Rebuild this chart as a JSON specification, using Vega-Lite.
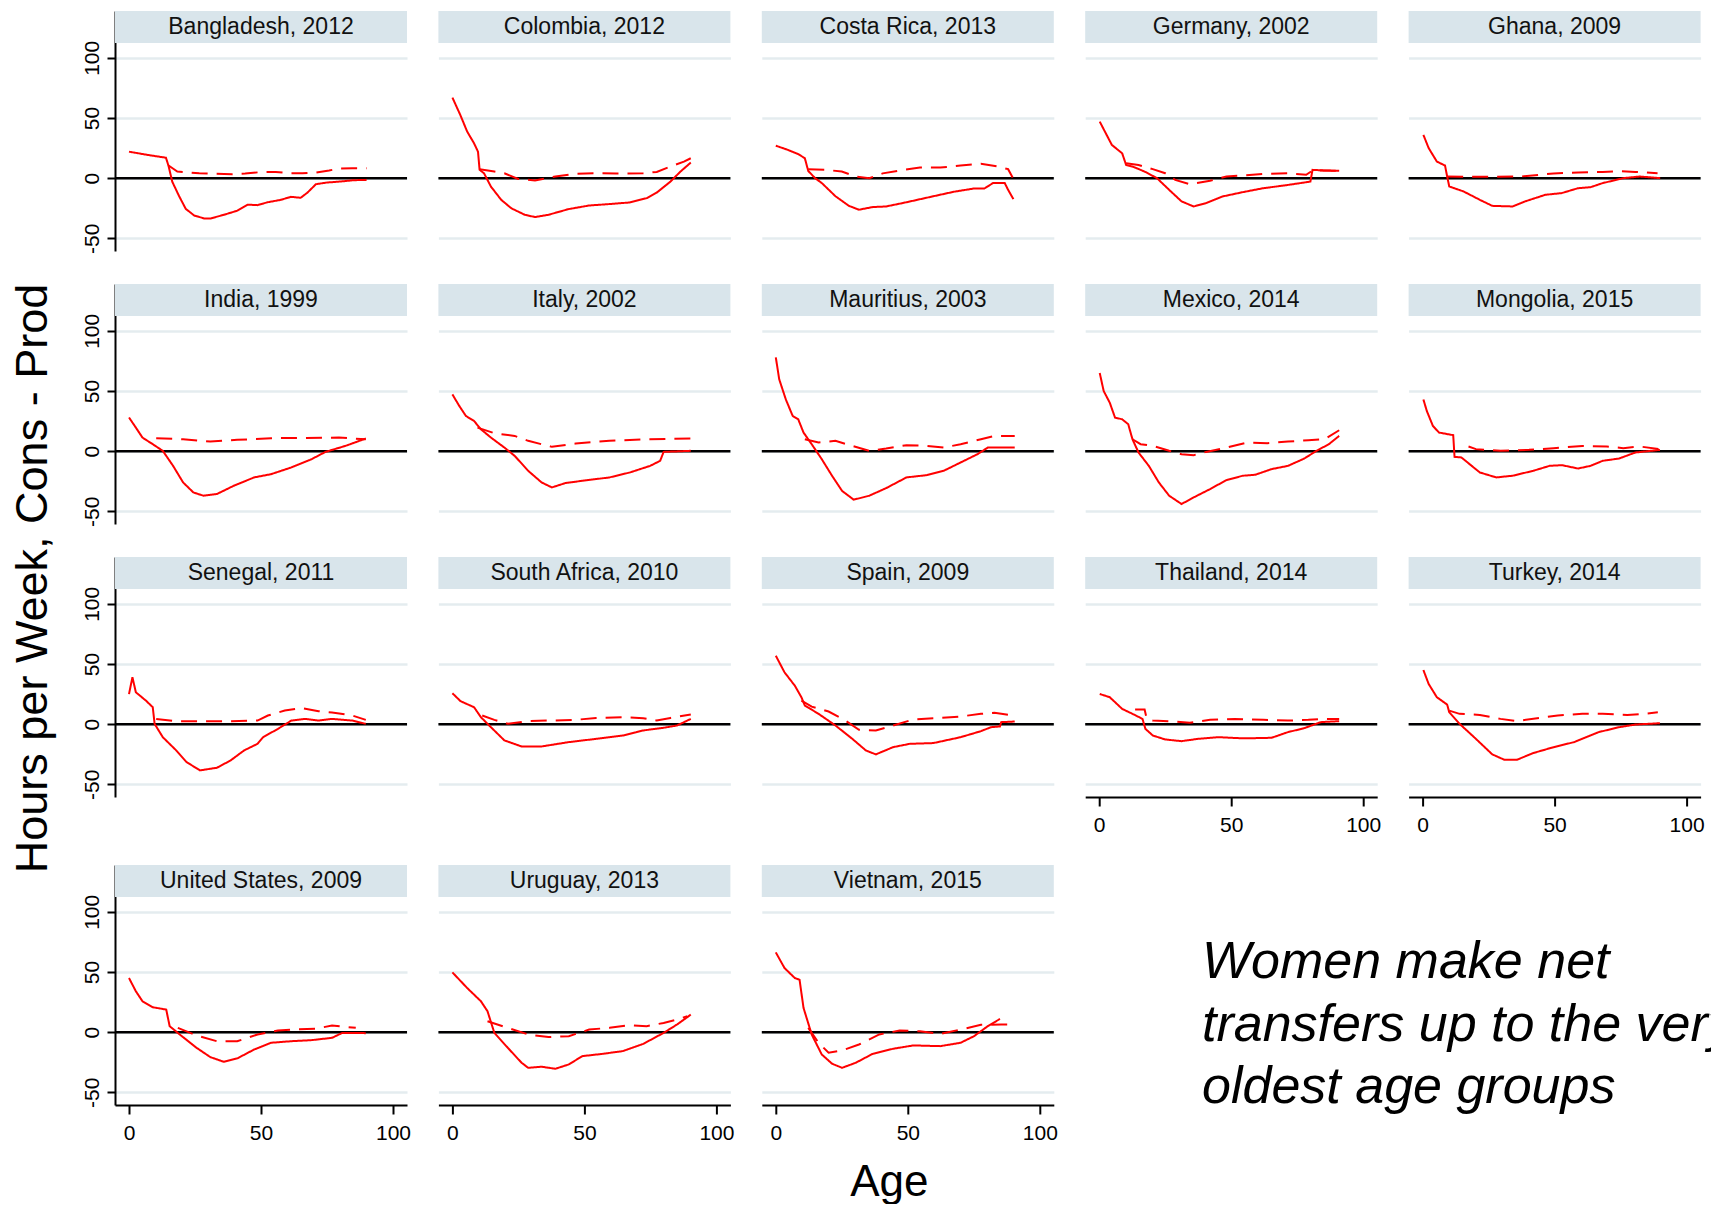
{
"$schema":"https://vega.github.io/schema/vega-lite/v6.json",
"padding":{"left":10,"top":11,"right":0,"bottom":0},
"background":"white",
"title":{"text":"Hours per Week, Cons - Prod","orient":"left","anchor":"middle","fontSize":45,"font":"Liberation Sans","fontWeight":"normal","color":"black","offset":25,"dx":29},
"config":{
 "view":{"stroke":null},
 "font":"Liberation Sans",
 "axis":{"labelFont":"Liberation Sans","labelFontSize":21,"labelColor":"black","domainColor":"black","domainWidth":2,"tickColor":"black","tickWidth":2,"labelFlush":false,"labelOverlap":false,"gridColor":"#e4ecef","gridWidth":2.5},
 "axisY":{"grid":true,"tickSize":8,"labelAngle":270,"labelAlign":"center","labelBaseline":"bottom","labelPadding":5},
 "axisX":{"grid":false,"tickSize":9,"labelPadding":8}
},
"datasets":{"lines":[
{"c":"Bangladesh","s":"solid","a":0,"v":22},{"c":"Bangladesh","s":"solid","a":8,"v":19},{"c":"Bangladesh","s":"solid","a":14,"v":17},{"c":"Bangladesh","s":"solid","a":15,"v":10},{"c":"Bangladesh","s":"solid","a":16.4,"v":-3},{"c":"Bangladesh","s":"solid","a":19,"v":-15},{"c":"Bangladesh","s":"solid","a":21.5,"v":-25.5},{"c":"Bangladesh","s":"solid","a":24.7,"v":-31},{"c":"Bangladesh","s":"solid","a":28.4,"v":-33.4},{"c":"Bangladesh","s":"solid","a":31,"v":-33.4},{"c":"Bangladesh","s":"solid","a":36,"v":-30.4},{"c":"Bangladesh","s":"solid","a":41,"v":-27},{"c":"Bangladesh","s":"solid","a":45,"v":-22},{"c":"Bangladesh","s":"solid","a":48.7,"v":-22.4},{"c":"Bangladesh","s":"solid","a":52.5,"v":-20},{"c":"Bangladesh","s":"solid","a":57.5,"v":-18},{"c":"Bangladesh","s":"solid","a":61.3,"v":-15.5},{"c":"Bangladesh","s":"solid","a":65,"v":-16.3},{"c":"Bangladesh","s":"solid","a":67.6,"v":-12},{"c":"Bangladesh","s":"solid","a":70.8,"v":-5},{"c":"Bangladesh","s":"solid","a":75,"v":-3.6},{"c":"Bangladesh","s":"solid","a":80,"v":-2.8},{"c":"Bangladesh","s":"solid","a":85,"v":-1.7},{"c":"Bangladesh","s":"solid","a":90,"v":-1.4},
{"c":"Bangladesh","s":"dashed","a":15,"v":10.5},{"c":"Bangladesh","s":"dashed","a":18.3,"v":5.5},{"c":"Bangladesh","s":"dashed","a":21.5,"v":5},{"c":"Bangladesh","s":"dashed","a":26.6,"v":4},{"c":"Bangladesh","s":"dashed","a":33,"v":3.6},{"c":"Bangladesh","s":"dashed","a":39,"v":3.3},{"c":"Bangladesh","s":"dashed","a":44,"v":3.9},{"c":"Bangladesh","s":"dashed","a":50.6,"v":5.2},{"c":"Bangladesh","s":"dashed","a":55.6,"v":5.2},{"c":"Bangladesh","s":"dashed","a":60.7,"v":4.1},{"c":"Bangladesh","s":"dashed","a":65.7,"v":4.1},{"c":"Bangladesh","s":"dashed","a":70.8,"v":4.7},{"c":"Bangladesh","s":"dashed","a":75.8,"v":6.4},{"c":"Bangladesh","s":"dashed","a":79.6,"v":8},{"c":"Bangladesh","s":"dashed","a":84.6,"v":8.3},{"c":"Bangladesh","s":"dashed","a":90,"v":8.3},
{"c":"Colombia","s":"solid","a":0,"v":67},{"c":"Colombia","s":"solid","a":3,"v":52.5},{"c":"Colombia","s":"solid","a":5.6,"v":38.7},{"c":"Colombia","s":"solid","a":8.2,"v":29},{"c":"Colombia","s":"solid","a":9.7,"v":22},{"c":"Colombia","s":"solid","a":10.3,"v":7},{"c":"Colombia","s":"solid","a":12,"v":4},{"c":"Colombia","s":"solid","a":14.6,"v":-7},{"c":"Colombia","s":"solid","a":18.5,"v":-18},{"c":"Colombia","s":"solid","a":22.3,"v":-25},{"c":"Colombia","s":"solid","a":27.4,"v":-30.4},{"c":"Colombia","s":"solid","a":31.3,"v":-32.3},{"c":"Colombia","s":"solid","a":36.4,"v":-30.4},{"c":"Colombia","s":"solid","a":44,"v":-25.7},{"c":"Colombia","s":"solid","a":51.8,"v":-22.7},{"c":"Colombia","s":"solid","a":59.5,"v":-21.5},{"c":"Colombia","s":"solid","a":67,"v":-20.2},{"c":"Colombia","s":"solid","a":73.6,"v":-16.6},{"c":"Colombia","s":"solid","a":77.4,"v":-12},{"c":"Colombia","s":"solid","a":82.6,"v":-2.8},{"c":"Colombia","s":"solid","a":86.4,"v":5.5},{"c":"Colombia","s":"solid","a":90.3,"v":13},
{"c":"Colombia","s":"dashed","a":10.3,"v":7.5},{"c":"Colombia","s":"dashed","a":15.9,"v":5.5},{"c":"Colombia","s":"dashed","a":19.7,"v":4.1},{"c":"Colombia","s":"dashed","a":24.9,"v":-0.6},{"c":"Colombia","s":"dashed","a":31.3,"v":-1.9},{"c":"Colombia","s":"dashed","a":39,"v":1.4},{"c":"Colombia","s":"dashed","a":46.7,"v":3.6},{"c":"Colombia","s":"dashed","a":54.4,"v":4.1},{"c":"Colombia","s":"dashed","a":62,"v":3.9},{"c":"Colombia","s":"dashed","a":72.3,"v":4.1},{"c":"Colombia","s":"dashed","a":77.4,"v":5.2},{"c":"Colombia","s":"dashed","a":82.6,"v":9.7},{"c":"Colombia","s":"dashed","a":87.7,"v":13.8},{"c":"Colombia","s":"dashed","a":90.3,"v":16.6},
{"c":"Costa Rica","s":"solid","a":0,"v":27},{"c":"Costa Rica","s":"solid","a":4.6,"v":23.5},{"c":"Costa Rica","s":"solid","a":8.5,"v":20},{"c":"Costa Rica","s":"solid","a":11,"v":16.6},{"c":"Costa Rica","s":"solid","a":12.3,"v":6},{"c":"Costa Rica","s":"solid","a":14.9,"v":0},{"c":"Costa Rica","s":"solid","a":17.4,"v":-4},{"c":"Costa Rica","s":"solid","a":22.6,"v":-15},{"c":"Costa Rica","s":"solid","a":27.7,"v":-23},{"c":"Costa Rica","s":"solid","a":31.5,"v":-26.2},{"c":"Costa Rica","s":"solid","a":36.7,"v":-24},{"c":"Costa Rica","s":"solid","a":41.8,"v":-23.5},{"c":"Costa Rica","s":"solid","a":49.5,"v":-20},{"c":"Costa Rica","s":"solid","a":59.7,"v":-15},{"c":"Costa Rica","s":"solid","a":67.4,"v":-11.3},{"c":"Costa Rica","s":"solid","a":75,"v":-8.6},{"c":"Costa Rica","s":"solid","a":79,"v":-8.6},{"c":"Costa Rica","s":"solid","a":82.3,"v":-4},{"c":"Costa Rica","s":"solid","a":86.7,"v":-4},{"c":"Costa Rica","s":"solid","a":88,"v":-9.7},{"c":"Costa Rica","s":"solid","a":90,"v":-17.4},
{"c":"Costa Rica","s":"dashed","a":12.3,"v":7.5},{"c":"Costa Rica","s":"dashed","a":18.7,"v":7},{"c":"Costa Rica","s":"dashed","a":25,"v":5.5},{"c":"Costa Rica","s":"dashed","a":30.3,"v":1.4},{"c":"Costa Rica","s":"dashed","a":35.4,"v":0},{"c":"Costa Rica","s":"dashed","a":40.5,"v":4},{"c":"Costa Rica","s":"dashed","a":47,"v":6.4},{"c":"Costa Rica","s":"dashed","a":54.6,"v":8.8},{"c":"Costa Rica","s":"dashed","a":62.3,"v":8.8},{"c":"Costa Rica","s":"dashed","a":70,"v":10.5},{"c":"Costa Rica","s":"dashed","a":77.7,"v":12},{"c":"Costa Rica","s":"dashed","a":84,"v":9.7},{"c":"Costa Rica","s":"dashed","a":88,"v":7.5},{"c":"Costa Rica","s":"dashed","a":89.7,"v":0.6},
{"c":"Germany","s":"solid","a":0.2,"v":47},{"c":"Germany","s":"solid","a":2.5,"v":37.3},{"c":"Germany","s":"solid","a":4.8,"v":27.6},{"c":"Germany","s":"solid","a":8.7,"v":20.7},{"c":"Germany","s":"solid","a":10.2,"v":11},{"c":"Germany","s":"solid","a":12.6,"v":9.7},{"c":"Germany","s":"solid","a":17.2,"v":5.5},{"c":"Germany","s":"solid","a":21.9,"v":0},{"c":"Germany","s":"solid","a":26.5,"v":-9.7},{"c":"Germany","s":"solid","a":31.2,"v":-19.3},{"c":"Germany","s":"solid","a":35.8,"v":-23.5},{"c":"Germany","s":"solid","a":40.5,"v":-20.7},{"c":"Germany","s":"solid","a":46.7,"v":-15.2},{"c":"Germany","s":"solid","a":54.4,"v":-11.6},{"c":"Germany","s":"solid","a":62.2,"v":-8.3},{"c":"Germany","s":"solid","a":70,"v":-6.1},{"c":"Germany","s":"solid","a":77.7,"v":-3.6},{"c":"Germany","s":"solid","a":80,"v":-2.8},{"c":"Germany","s":"solid","a":80.8,"v":6.9},{"c":"Germany","s":"solid","a":85.4,"v":6.4},{"c":"Germany","s":"solid","a":90.9,"v":6.1},
{"c":"Germany","s":"dashed","a":10.2,"v":12.4},{"c":"Germany","s":"dashed","a":14.9,"v":11},{"c":"Germany","s":"dashed","a":20.3,"v":7.5},{"c":"Germany","s":"dashed","a":25,"v":4.1},{"c":"Germany","s":"dashed","a":28.8,"v":-1.4},{"c":"Germany","s":"dashed","a":34.3,"v":-5},{"c":"Germany","s":"dashed","a":42,"v":-2.2},{"c":"Germany","s":"dashed","a":48.2,"v":1.4},{"c":"Germany","s":"dashed","a":54.4,"v":2.2},{"c":"Germany","s":"dashed","a":62.2,"v":3.6},{"c":"Germany","s":"dashed","a":71.5,"v":4.1},{"c":"Germany","s":"dashed","a":78.4,"v":2.8},{"c":"Germany","s":"dashed","a":80.8,"v":6.4},{"c":"Germany","s":"dashed","a":90.9,"v":6.1},
{"c":"Ghana","s":"solid","a":0.3,"v":36},{"c":"Ghana","s":"solid","a":2.3,"v":25},{"c":"Ghana","s":"solid","a":5.4,"v":13.8},{"c":"Ghana","s":"solid","a":8.5,"v":10.5},{"c":"Ghana","s":"solid","a":9.3,"v":1.4},{"c":"Ghana","s":"solid","a":10.1,"v":-6.9},{"c":"Ghana","s":"solid","a":15.5,"v":-11},{"c":"Ghana","s":"solid","a":21.7,"v":-18},{"c":"Ghana","s":"solid","a":26.4,"v":-23},{"c":"Ghana","s":"solid","a":34.1,"v":-23.5},{"c":"Ghana","s":"solid","a":38.8,"v":-19.3},{"c":"Ghana","s":"solid","a":46.5,"v":-13.8},{"c":"Ghana","s":"solid","a":52.7,"v":-12.4},{"c":"Ghana","s":"solid","a":58.9,"v":-8.3},{"c":"Ghana","s":"solid","a":63.6,"v":-7.5},{"c":"Ghana","s":"solid","a":68.2,"v":-4.1},{"c":"Ghana","s":"solid","a":76,"v":0},{"c":"Ghana","s":"solid","a":82.2,"v":1.4},{"c":"Ghana","s":"solid","a":90,"v":0},
{"c":"Ghana","s":"dashed","a":9.3,"v":1.4},{"c":"Ghana","s":"dashed","a":21.7,"v":1.1},{"c":"Ghana","s":"dashed","a":37.2,"v":1.4},{"c":"Ghana","s":"dashed","a":49.6,"v":3.9},{"c":"Ghana","s":"dashed","a":58.9,"v":4.7},{"c":"Ghana","s":"dashed","a":68.2,"v":5.2},{"c":"Ghana","s":"dashed","a":74.4,"v":5.8},{"c":"Ghana","s":"dashed","a":80.6,"v":5.2},{"c":"Ghana","s":"dashed","a":89,"v":4.1},
{"c":"India","s":"solid","a":0,"v":28},{"c":"India","s":"solid","a":2.6,"v":19.6},{"c":"India","s":"solid","a":5.1,"v":11.3},{"c":"India","s":"solid","a":9,"v":5.8},{"c":"India","s":"solid","a":12.8,"v":0.3},{"c":"India","s":"solid","a":16.7,"v":-12.2},{"c":"India","s":"solid","a":20.5,"v":-26},{"c":"India","s":"solid","a":24.4,"v":-34.3},{"c":"India","s":"solid","a":28.2,"v":-37},{"c":"India","s":"solid","a":33.3,"v":-35.6},{"c":"India","s":"solid","a":39.7,"v":-28.7},{"c":"India","s":"solid","a":47.4,"v":-21.8},{"c":"India","s":"solid","a":53.8,"v":-19.1},{"c":"India","s":"solid","a":61.5,"v":-13.5},{"c":"India","s":"solid","a":69.2,"v":-6.6},{"c":"India","s":"solid","a":74.4,"v":-0.6},{"c":"India","s":"solid","a":82,"v":4.4},{"c":"India","s":"solid","a":89.7,"v":10.5},
{"c":"India","s":"dashed","a":10.3,"v":10.8},{"c":"India","s":"dashed","a":20.5,"v":9.9},{"c":"India","s":"dashed","a":30.8,"v":8},{"c":"India","s":"dashed","a":41,"v":9.4},{"c":"India","s":"dashed","a":53.8,"v":10.8},{"c":"India","s":"dashed","a":66.7,"v":11},{"c":"India","s":"dashed","a":79.5,"v":11.3},{"c":"India","s":"dashed","a":89.7,"v":9.9},
{"c":"Italy","s":"solid","a":0,"v":47.2},{"c":"Italy","s":"solid","a":2.6,"v":37.6},{"c":"Italy","s":"solid","a":5.1,"v":29.3},{"c":"Italy","s":"solid","a":8.2,"v":25.1},{"c":"Italy","s":"solid","a":10.8,"v":18.2},{"c":"Italy","s":"solid","a":14.6,"v":11.3},{"c":"Italy","s":"solid","a":19.7,"v":3},{"c":"Italy","s":"solid","a":23.6,"v":-3.9},{"c":"Italy","s":"solid","a":28.7,"v":-16.3},{"c":"Italy","s":"solid","a":33.8,"v":-26},{"c":"Italy","s":"solid","a":37.7,"v":-30.1},{"c":"Italy","s":"solid","a":42.8,"v":-26.5},{"c":"Italy","s":"solid","a":49.2,"v":-24.6},{"c":"Italy","s":"solid","a":59.5,"v":-21.8},{"c":"Italy","s":"solid","a":67.2,"v":-17.7},{"c":"Italy","s":"solid","a":74.9,"v":-12.2},{"c":"Italy","s":"solid","a":78.7,"v":-8},{"c":"Italy","s":"solid","a":80,"v":-0.6},{"c":"Italy","s":"solid","a":90.3,"v":0.3},
{"c":"Italy","s":"dashed","a":9.5,"v":19.6},{"c":"Italy","s":"dashed","a":15.9,"v":14.9},{"c":"Italy","s":"dashed","a":23.6,"v":12.7},{"c":"Italy","s":"dashed","a":28.7,"v":8.6},{"c":"Italy","s":"dashed","a":37.7,"v":3.6},{"c":"Italy","s":"dashed","a":46.7,"v":6.4},{"c":"Italy","s":"dashed","a":59.5,"v":8.6},{"c":"Italy","s":"dashed","a":72.3,"v":9.9},{"c":"Italy","s":"dashed","a":90.3,"v":10.5},
{"c":"Mauritius","s":"solid","a":0,"v":78},{"c":"Mauritius","s":"solid","a":1.3,"v":59.7},{"c":"Mauritius","s":"solid","a":3.8,"v":43},{"c":"Mauritius","s":"solid","a":6.4,"v":29.3},{"c":"Mauritius","s":"solid","a":8.5,"v":26.5},{"c":"Mauritius","s":"solid","a":10.5,"v":15.5},{"c":"Mauritius","s":"solid","a":13.6,"v":5.8},{"c":"Mauritius","s":"solid","a":17.4,"v":-6.6},{"c":"Mauritius","s":"solid","a":21.3,"v":-20.4},{"c":"Mauritius","s":"solid","a":25.1,"v":-33},{"c":"Mauritius","s":"solid","a":29.5,"v":-40.3},{"c":"Mauritius","s":"solid","a":35.4,"v":-37},{"c":"Mauritius","s":"solid","a":41.8,"v":-30.7},{"c":"Mauritius","s":"solid","a":49.5,"v":-21.8},{"c":"Mauritius","s":"solid","a":57.2,"v":-19.9},{"c":"Mauritius","s":"solid","a":63.6,"v":-16.3},{"c":"Mauritius","s":"solid","a":70,"v":-9.4},{"c":"Mauritius","s":"solid","a":76.4,"v":-2.5},{"c":"Mauritius","s":"solid","a":80.3,"v":3},{"c":"Mauritius","s":"solid","a":90.5,"v":3},
{"c":"Mauritius","s":"dashed","a":11,"v":9.9},{"c":"Mauritius","s":"dashed","a":16.2,"v":7.2},{"c":"Mauritius","s":"dashed","a":22.6,"v":8.6},{"c":"Mauritius","s":"dashed","a":29,"v":4.4},{"c":"Mauritius","s":"dashed","a":35.4,"v":0.3},{"c":"Mauritius","s":"dashed","a":41.8,"v":2.2},{"c":"Mauritius","s":"dashed","a":49.5,"v":5},{"c":"Mauritius","s":"dashed","a":57.2,"v":4.4},{"c":"Mauritius","s":"dashed","a":63.6,"v":3},{"c":"Mauritius","s":"dashed","a":70,"v":5.8},{"c":"Mauritius","s":"dashed","a":77.7,"v":9.9},{"c":"Mauritius","s":"dashed","a":82.8,"v":12.7},{"c":"Mauritius","s":"dashed","a":90.5,"v":12.7},
{"c":"Mexico","s":"solid","a":0.2,"v":65},{"c":"Mexico","s":"solid","a":1.7,"v":50},{"c":"Mexico","s":"solid","a":4,"v":40.3},{"c":"Mexico","s":"solid","a":6,"v":27.9},{"c":"Mexico","s":"solid","a":8.7,"v":26.5},{"c":"Mexico","s":"solid","a":11,"v":22.4},{"c":"Mexico","s":"solid","a":12.6,"v":9.9},{"c":"Mexico","s":"solid","a":14.9,"v":-1.1},{"c":"Mexico","s":"solid","a":18.8,"v":-12.2},{"c":"Mexico","s":"solid","a":22.6,"v":-26},{"c":"Mexico","s":"solid","a":26.5,"v":-37},{"c":"Mexico","s":"solid","a":31.2,"v":-43.9},{"c":"Mexico","s":"solid","a":35.8,"v":-38.4},{"c":"Mexico","s":"solid","a":42,"v":-31.5},{"c":"Mexico","s":"solid","a":48.2,"v":-24},{"c":"Mexico","s":"solid","a":54.4,"v":-20.4},{"c":"Mexico","s":"solid","a":59.1,"v":-19.6},{"c":"Mexico","s":"solid","a":65.3,"v":-14.9},{"c":"Mexico","s":"solid","a":71.5,"v":-12.2},{"c":"Mexico","s":"solid","a":77.7,"v":-6.1},{"c":"Mexico","s":"solid","a":82.3,"v":0.3},{"c":"Mexico","s":"solid","a":87,"v":5.8},{"c":"Mexico","s":"solid","a":90.9,"v":12.7},
{"c":"Mexico","s":"dashed","a":12.6,"v":9.9},{"c":"Mexico","s":"dashed","a":15.7,"v":5.8},{"c":"Mexico","s":"dashed","a":20.3,"v":4.4},{"c":"Mexico","s":"dashed","a":26.5,"v":0.3},{"c":"Mexico","s":"dashed","a":31.2,"v":-2.5},{"c":"Mexico","s":"dashed","a":35.8,"v":-3.3},{"c":"Mexico","s":"dashed","a":40.5,"v":-0.6},{"c":"Mexico","s":"dashed","a":48.2,"v":3},{"c":"Mexico","s":"dashed","a":56,"v":7.2},{"c":"Mexico","s":"dashed","a":63.7,"v":6.6},{"c":"Mexico","s":"dashed","a":71.5,"v":8},{"c":"Mexico","s":"dashed","a":79.2,"v":9.1},{"c":"Mexico","s":"dashed","a":85.4,"v":9.9},{"c":"Mexico","s":"dashed","a":90.9,"v":17.4},
{"c":"Mongolia","s":"solid","a":0.3,"v":43},{"c":"Mongolia","s":"solid","a":1.6,"v":33.4},{"c":"Mongolia","s":"solid","a":3.9,"v":21},{"c":"Mongolia","s":"solid","a":6.2,"v":15.5},{"c":"Mongolia","s":"solid","a":11.6,"v":13.3},{"c":"Mongolia","s":"solid","a":12.1,"v":-4.7},{"c":"Mongolia","s":"solid","a":14.7,"v":-5.2},{"c":"Mongolia","s":"solid","a":18.6,"v":-12.2},{"c":"Mongolia","s":"solid","a":21.7,"v":-17.7},{"c":"Mongolia","s":"solid","a":27.9,"v":-21.8},{"c":"Mongolia","s":"solid","a":34.1,"v":-20.4},{"c":"Mongolia","s":"solid","a":41.9,"v":-16.3},{"c":"Mongolia","s":"solid","a":48.1,"v":-12.2},{"c":"Mongolia","s":"solid","a":52.7,"v":-11.6},{"c":"Mongolia","s":"solid","a":58.9,"v":-14.4},{"c":"Mongolia","s":"solid","a":63.6,"v":-12.2},{"c":"Mongolia","s":"solid","a":68.2,"v":-8},{"c":"Mongolia","s":"solid","a":74.4,"v":-6.1},{"c":"Mongolia","s":"solid","a":80.6,"v":-1.1},{"c":"Mongolia","s":"solid","a":89.9,"v":1.1},
{"c":"Mongolia","s":"dashed","a":17.4,"v":3.9},{"c":"Mongolia","s":"dashed","a":20.2,"v":1.7},{"c":"Mongolia","s":"dashed","a":29.5,"v":0.3},{"c":"Mongolia","s":"dashed","a":40.3,"v":1.1},{"c":"Mongolia","s":"dashed","a":49.6,"v":2.5},{"c":"Mongolia","s":"dashed","a":60.5,"v":4.4},{"c":"Mongolia","s":"dashed","a":69.8,"v":3.9},{"c":"Mongolia","s":"dashed","a":76,"v":2.5},{"c":"Mongolia","s":"dashed","a":82.2,"v":3.9},{"c":"Mongolia","s":"dashed","a":89.9,"v":1.7},
{"c":"Senegal","s":"solid","a":0,"v":25},{"c":"Senegal","s":"solid","a":1.3,"v":39},{"c":"Senegal","s":"solid","a":2.6,"v":26.5},{"c":"Senegal","s":"solid","a":6.4,"v":19.6},{"c":"Senegal","s":"solid","a":9,"v":14.1},{"c":"Senegal","s":"solid","a":9.7,"v":0.3},{"c":"Senegal","s":"solid","a":12.8,"v":-10.8},{"c":"Senegal","s":"solid","a":17.9,"v":-21.8},{"c":"Senegal","s":"solid","a":21.8,"v":-31.5},{"c":"Senegal","s":"solid","a":26.9,"v":-38.4},{"c":"Senegal","s":"solid","a":33.3,"v":-36.2},{"c":"Senegal","s":"solid","a":38.5,"v":-30.1},{"c":"Senegal","s":"solid","a":43.6,"v":-21.8},{"c":"Senegal","s":"solid","a":48.7,"v":-16.3},{"c":"Senegal","s":"solid","a":50.8,"v":-10.8},{"c":"Senegal","s":"solid","a":56.4,"v":-3.9},{"c":"Senegal","s":"solid","a":61.5,"v":3},{"c":"Senegal","s":"solid","a":66.7,"v":4.4},{"c":"Senegal","s":"solid","a":71.8,"v":3},{"c":"Senegal","s":"solid","a":76.9,"v":4.4},{"c":"Senegal","s":"solid","a":84.6,"v":3},{"c":"Senegal","s":"solid","a":89.7,"v":0.3},
{"c":"Senegal","s":"dashed","a":10.3,"v":4.4},{"c":"Senegal","s":"dashed","a":17.9,"v":2.5},{"c":"Senegal","s":"dashed","a":28.2,"v":2.5},{"c":"Senegal","s":"dashed","a":38.5,"v":2.5},{"c":"Senegal","s":"dashed","a":48.7,"v":3},{"c":"Senegal","s":"dashed","a":52.6,"v":7.2},{"c":"Senegal","s":"dashed","a":59,"v":11.3},{"c":"Senegal","s":"dashed","a":65.4,"v":13.3},{"c":"Senegal","s":"dashed","a":71.8,"v":10.8},{"c":"Senegal","s":"dashed","a":76.9,"v":9.7},{"c":"Senegal","s":"dashed","a":84.6,"v":7.2},{"c":"Senegal","s":"dashed","a":89.7,"v":3.6},
{"c":"South Africa","s":"solid","a":0,"v":25.7},{"c":"South Africa","s":"solid","a":3.1,"v":19.1},{"c":"South Africa","s":"solid","a":8.2,"v":14.1},{"c":"South Africa","s":"solid","a":10.8,"v":5.8},{"c":"South Africa","s":"solid","a":14.6,"v":-2.5},{"c":"South Africa","s":"solid","a":19.7,"v":-13.5},{"c":"South Africa","s":"solid","a":26.2,"v":-18.5},{"c":"South Africa","s":"solid","a":33.8,"v":-18.5},{"c":"South Africa","s":"solid","a":44.1,"v":-14.9},{"c":"South Africa","s":"solid","a":54.4,"v":-12.2},{"c":"South Africa","s":"solid","a":64.6,"v":-9.4},{"c":"South Africa","s":"solid","a":72.3,"v":-5.2},{"c":"South Africa","s":"solid","a":80,"v":-3},{"c":"South Africa","s":"solid","a":85.1,"v":-1.1},{"c":"South Africa","s":"solid","a":90.3,"v":4.4},
{"c":"South Africa","s":"dashed","a":11.3,"v":7.2},{"c":"South Africa","s":"dashed","a":15.9,"v":3.6},{"c":"South Africa","s":"dashed","a":21,"v":0.3},{"c":"South Africa","s":"dashed","a":28.7,"v":2.5},{"c":"South Africa","s":"dashed","a":36.4,"v":3},{"c":"South Africa","s":"dashed","a":46.7,"v":3.6},{"c":"South Africa","s":"dashed","a":54.4,"v":5.2},{"c":"South Africa","s":"dashed","a":64.6,"v":5.8},{"c":"South Africa","s":"dashed","a":72.3,"v":5},{"c":"South Africa","s":"dashed","a":77.4,"v":3},{"c":"South Africa","s":"dashed","a":82.6,"v":5.2},{"c":"South Africa","s":"dashed","a":90.3,"v":8},
{"c":"Spain","s":"solid","a":0,"v":56.9},{"c":"Spain","s":"solid","a":3.3,"v":43.1},{"c":"Spain","s":"solid","a":7.2,"v":32},{"c":"Spain","s":"solid","a":9.7,"v":22.4},{"c":"Spain","s":"solid","a":11,"v":15.5},{"c":"Spain","s":"solid","a":16.2,"v":8.6},{"c":"Spain","s":"solid","a":22.6,"v":-1.1},{"c":"Spain","s":"solid","a":29,"v":-12.2},{"c":"Spain","s":"solid","a":34.1,"v":-21.8},{"c":"Spain","s":"solid","a":37.9,"v":-25.1},{"c":"Spain","s":"solid","a":44.4,"v":-19.1},{"c":"Spain","s":"solid","a":50.8,"v":-16.3},{"c":"Spain","s":"solid","a":59.7,"v":-15.7},{"c":"Spain","s":"solid","a":70,"v":-10.8},{"c":"Spain","s":"solid","a":77.7,"v":-5.8},{"c":"Spain","s":"solid","a":81.5,"v":-2.5},{"c":"Spain","s":"solid","a":84.9,"v":-1.9},{"c":"Spain","s":"solid","a":85.4,"v":1.7},{"c":"Spain","s":"solid","a":90.5,"v":2.2},
{"c":"Spain","s":"dashed","a":9.7,"v":19.6},{"c":"Spain","s":"dashed","a":13.6,"v":14.6},{"c":"Spain","s":"dashed","a":20,"v":10.5},{"c":"Spain","s":"dashed","a":26.4,"v":3},{"c":"Spain","s":"dashed","a":31.5,"v":-4.7},{"c":"Spain","s":"dashed","a":37.9,"v":-5.2},{"c":"Spain","s":"dashed","a":44.4,"v":-1.1},{"c":"Spain","s":"dashed","a":52.1,"v":3.9},{"c":"Spain","s":"dashed","a":62.3,"v":5.2},{"c":"Spain","s":"dashed","a":70,"v":6.4},{"c":"Spain","s":"dashed","a":77.7,"v":8.6},{"c":"Spain","s":"dashed","a":82.8,"v":9.4},{"c":"Spain","s":"dashed","a":85.4,"v":8.6},{"c":"Spain","s":"dashed","a":90.5,"v":7.2},
{"c":"Thailand","s":"solid","a":0.2,"v":25.1},{"c":"Thailand","s":"solid","a":4,"v":22.4},{"c":"Thailand","s":"solid","a":8.7,"v":12.7},{"c":"Thailand","s":"solid","a":12.6,"v":8.6},{"c":"Thailand","s":"solid","a":16.4,"v":4.4},{"c":"Thailand","s":"solid","a":17.5,"v":-3.9},{"c":"Thailand","s":"solid","a":20.3,"v":-9.4},{"c":"Thailand","s":"solid","a":25,"v":-12.7},{"c":"Thailand","s":"solid","a":31.2,"v":-14.1},{"c":"Thailand","s":"solid","a":37.4,"v":-12.2},{"c":"Thailand","s":"solid","a":45.1,"v":-10.8},{"c":"Thailand","s":"solid","a":52.9,"v":-11.6},{"c":"Thailand","s":"solid","a":59.1,"v":-11.6},{"c":"Thailand","s":"solid","a":65.3,"v":-11.3},{"c":"Thailand","s":"solid","a":71.5,"v":-6.6},{"c":"Thailand","s":"solid","a":77.7,"v":-3.3},{"c":"Thailand","s":"solid","a":83.9,"v":1.7},{"c":"Thailand","s":"solid","a":90.9,"v":2.5},
{"c":"Thailand","s":"dashed","a":13.6,"v":12.2},{"c":"Thailand","s":"dashed","a":17.2,"v":12.2},{"c":"Thailand","s":"dashed","a":18,"v":4.4},{"c":"Thailand","s":"dashed","a":20.3,"v":3},{"c":"Thailand","s":"dashed","a":26.5,"v":2.5},{"c":"Thailand","s":"dashed","a":34.3,"v":1.1},{"c":"Thailand","s":"dashed","a":42,"v":3.6},{"c":"Thailand","s":"dashed","a":51.3,"v":4.4},{"c":"Thailand","s":"dashed","a":62.2,"v":3.6},{"c":"Thailand","s":"dashed","a":71.5,"v":3},{"c":"Thailand","s":"dashed","a":79.2,"v":3.6},{"c":"Thailand","s":"dashed","a":85.4,"v":4.4},{"c":"Thailand","s":"dashed","a":90.9,"v":4.4},
{"c":"Turkey","s":"solid","a":0.3,"v":45},{"c":"Turkey","s":"solid","a":2.3,"v":33.4},{"c":"Turkey","s":"solid","a":5.4,"v":22.4},{"c":"Turkey","s":"solid","a":9.3,"v":16.3},{"c":"Turkey","s":"solid","a":10.1,"v":9.9},{"c":"Turkey","s":"solid","a":14,"v":0.3},{"c":"Turkey","s":"solid","a":20.2,"v":-12.2},{"c":"Turkey","s":"solid","a":26.4,"v":-25.1},{"c":"Turkey","s":"solid","a":31,"v":-29.6},{"c":"Turkey","s":"solid","a":35.7,"v":-29.6},{"c":"Turkey","s":"solid","a":41.9,"v":-24},{"c":"Turkey","s":"solid","a":49.6,"v":-19.1},{"c":"Turkey","s":"solid","a":57.4,"v":-14.9},{"c":"Turkey","s":"solid","a":66.7,"v":-6.6},{"c":"Turkey","s":"solid","a":74.4,"v":-2.5},{"c":"Turkey","s":"solid","a":80.6,"v":-0.3},{"c":"Turkey","s":"solid","a":89.9,"v":0.8},
{"c":"Turkey","s":"dashed","a":10.1,"v":11.3},{"c":"Turkey","s":"dashed","a":14,"v":8.6},{"c":"Turkey","s":"dashed","a":21.7,"v":7.7},{"c":"Turkey","s":"dashed","a":29.5,"v":4.4},{"c":"Turkey","s":"dashed","a":35.7,"v":2.5},{"c":"Turkey","s":"dashed","a":43.4,"v":5},{"c":"Turkey","s":"dashed","a":51.2,"v":7.2},{"c":"Turkey","s":"dashed","a":60.5,"v":8.6},{"c":"Turkey","s":"dashed","a":68.2,"v":8.6},{"c":"Turkey","s":"dashed","a":77.5,"v":7.7},{"c":"Turkey","s":"dashed","a":83.7,"v":8.6},{"c":"Turkey","s":"dashed","a":89.1,"v":9.9},
{"c":"United States","s":"solid","a":0,"v":45},{"c":"United States","s":"solid","a":2.6,"v":34},{"c":"United States","s":"solid","a":5.1,"v":25.7},{"c":"United States","s":"solid","a":9,"v":20.7},{"c":"United States","s":"solid","a":14.1,"v":18.8},{"c":"United States","s":"solid","a":15.4,"v":5},{"c":"United States","s":"solid","a":19.2,"v":-1.9},{"c":"United States","s":"solid","a":25.6,"v":-13},{"c":"United States","s":"solid","a":30.8,"v":-20.7},{"c":"United States","s":"solid","a":35.9,"v":-24.6},{"c":"United States","s":"solid","a":41,"v":-21.8},{"c":"United States","s":"solid","a":47.4,"v":-14.4},{"c":"United States","s":"solid","a":53.8,"v":-8.8},{"c":"United States","s":"solid","a":61.5,"v":-7.5},{"c":"United States","s":"solid","a":69.2,"v":-6.6},{"c":"United States","s":"solid","a":76.9,"v":-4.7},{"c":"United States","s":"solid","a":80.8,"v":-0.6},{"c":"United States","s":"solid","a":89.7,"v":-0.8},
{"c":"United States","s":"dashed","a":18.5,"v":3.6},{"c":"United States","s":"dashed","a":25.6,"v":-2.8},{"c":"United States","s":"dashed","a":33.3,"v":-7.5},{"c":"United States","s":"dashed","a":41,"v":-7.5},{"c":"United States","s":"dashed","a":48.7,"v":-1.9},{"c":"United States","s":"dashed","a":56.4,"v":1.4},{"c":"United States","s":"dashed","a":64.1,"v":2.5},{"c":"United States","s":"dashed","a":70.5,"v":2.8},{"c":"United States","s":"dashed","a":76.9,"v":5.5},{"c":"United States","s":"dashed","a":85.9,"v":3.6},
{"c":"Uruguay","s":"solid","a":0,"v":49.7},{"c":"Uruguay","s":"solid","a":5.6,"v":36.7},{"c":"Uruguay","s":"solid","a":10.8,"v":25.7},{"c":"Uruguay","s":"solid","a":13.3,"v":17.4},{"c":"Uruguay","s":"solid","a":15.9,"v":-0.6},{"c":"Uruguay","s":"solid","a":21,"v":-13},{"c":"Uruguay","s":"solid","a":26.2,"v":-25.4},{"c":"Uruguay","s":"solid","a":28.7,"v":-29.6},{"c":"Uruguay","s":"solid","a":33.8,"v":-28.7},{"c":"Uruguay","s":"solid","a":39,"v":-30.4},{"c":"Uruguay","s":"solid","a":44.1,"v":-26.8},{"c":"Uruguay","s":"solid","a":49.2,"v":-19.9},{"c":"Uruguay","s":"solid","a":56.9,"v":-18},{"c":"Uruguay","s":"solid","a":64.6,"v":-15.7},{"c":"Uruguay","s":"solid","a":72.3,"v":-9.7},{"c":"Uruguay","s":"solid","a":80,"v":-0.6},{"c":"Uruguay","s":"solid","a":85.1,"v":6.4},{"c":"Uruguay","s":"solid","a":90.3,"v":14.6},
{"c":"Uruguay","s":"dashed","a":13.3,"v":9.1},{"c":"Uruguay","s":"dashed","a":21,"v":3.6},{"c":"Uruguay","s":"dashed","a":28.7,"v":-1.9},{"c":"Uruguay","s":"dashed","a":36.4,"v":-4.1},{"c":"Uruguay","s":"dashed","a":44.1,"v":-3.3},{"c":"Uruguay","s":"dashed","a":51.8,"v":2.2},{"c":"Uruguay","s":"dashed","a":59.5,"v":3.6},{"c":"Uruguay","s":"dashed","a":67.2,"v":5.8},{"c":"Uruguay","s":"dashed","a":73.6,"v":5},{"c":"Uruguay","s":"dashed","a":80,"v":7.7},{"c":"Uruguay","s":"dashed","a":85.1,"v":10.5},{"c":"Uruguay","s":"dashed","a":89,"v":13.3},
{"c":"Vietnam","s":"solid","a":0,"v":66.3},{"c":"Vietnam","s":"solid","a":3.3,"v":53.3},{"c":"Vietnam","s":"solid","a":7.2,"v":45},{"c":"Vietnam","s":"solid","a":9,"v":43.6},{"c":"Vietnam","s":"solid","a":10.5,"v":20.2},{"c":"Vietnam","s":"solid","a":13.6,"v":-1.9},{"c":"Vietnam","s":"solid","a":17.4,"v":-18.5},{"c":"Vietnam","s":"solid","a":21.3,"v":-26.2},{"c":"Vietnam","s":"solid","a":25.1,"v":-29.6},{"c":"Vietnam","s":"solid","a":30.3,"v":-25.4},{"c":"Vietnam","s":"solid","a":36.7,"v":-18},{"c":"Vietnam","s":"solid","a":44.4,"v":-13.8},{"c":"Vietnam","s":"solid","a":52.1,"v":-11},{"c":"Vietnam","s":"solid","a":62.3,"v":-11.6},{"c":"Vietnam","s":"solid","a":70,"v":-8.8},{"c":"Vietnam","s":"solid","a":75.1,"v":-3.3},{"c":"Vietnam","s":"solid","a":80.3,"v":5},{"c":"Vietnam","s":"solid","a":84.9,"v":11},
{"c":"Vietnam","s":"dashed","a":12.3,"v":3.6},{"c":"Vietnam","s":"dashed","a":16.2,"v":-8.8},{"c":"Vietnam","s":"dashed","a":20,"v":-17.1},{"c":"Vietnam","s":"dashed","a":25.1,"v":-15.2},{"c":"Vietnam","s":"dashed","a":31.5,"v":-10.2},{"c":"Vietnam","s":"dashed","a":39.2,"v":-1.9},{"c":"Vietnam","s":"dashed","a":46.9,"v":1.4},{"c":"Vietnam","s":"dashed","a":54.6,"v":0.8},{"c":"Vietnam","s":"dashed","a":62.3,"v":-1.4},{"c":"Vietnam","s":"dashed","a":70,"v":2.2},{"c":"Vietnam","s":"dashed","a":77.7,"v":6.1},{"c":"Vietnam","s":"dashed","a":85.4,"v":6.4},{"c":"Vietnam","s":"dashed","a":90.5,"v":6.4}
]},
"vconcat":[
{"hconcat":[
{"width":292,"height":240,"layer":[{"data":{"values":[{"t":"Bangladesh, 2012"}]},"layer":[{"mark":{"type":"rect","color":"#d9e5eb"},"encoding":{"x":{"datum":-5.3,"type":"quantitative"},"x2":{"datum":105.3},"y":{"datum":112.4,"type":"quantitative"},"y2":{"datum":138.9}}},{"mark":{"type":"text","fontSize":23,"color":"#111111","baseline":"middle"},"encoding":{"x":{"datum":50,"type":"quantitative"},"y":{"datum":125.6,"type":"quantitative"},"text":{"field":"t"}}}]},{"data":{"values":[{}]},"mark":{"type":"rule","color":"black","strokeWidth":2.5},"encoding":{"y":{"datum":0,"type":"quantitative"}}},{"data":{"name":"lines"},"transform":[{"filter":"datum.c === 'Bangladesh'"}],"mark":{"type":"line","color":"red","strokeWidth":2},"encoding":{"x":{"field":"a","type":"quantitative","scale":{"domain":[-5.3,105.3],"nice":false,"zero":false},"axis":{"title":null,"labels":false,"ticks":false,"domain":false,"grid":false}},"y":{"field":"v","type":"quantitative","scale":{"domain":[-60.5,138.9],"nice":false,"zero":false},"axis":{"values":[-50,0,50,100],"title":null,"labelExpr":"'' + datum.value"}},"strokeDash":{"field":"s","type":"nominal","scale":{"domain":["solid","dashed"],"range":[[1,0],[16,9]]},"legend":null}}}]},
{"width":292,"height":240,"layer":[{"data":{"values":[{"t":"Colombia, 2012"}]},"layer":[{"mark":{"type":"rect","color":"#d9e5eb"},"encoding":{"x":{"datum":-5.3,"type":"quantitative"},"x2":{"datum":105.3},"y":{"datum":112.4,"type":"quantitative"},"y2":{"datum":138.9}}},{"mark":{"type":"text","fontSize":23,"color":"#111111","baseline":"middle"},"encoding":{"x":{"datum":50,"type":"quantitative"},"y":{"datum":125.6,"type":"quantitative"},"text":{"field":"t"}}}]},{"data":{"values":[{}]},"mark":{"type":"rule","color":"black","strokeWidth":2.5},"encoding":{"y":{"datum":0,"type":"quantitative"}}},{"data":{"name":"lines"},"transform":[{"filter":"datum.c === 'Colombia'"}],"mark":{"type":"line","color":"red","strokeWidth":2},"encoding":{"x":{"field":"a","type":"quantitative","scale":{"domain":[-5.3,105.3],"nice":false,"zero":false},"axis":{"title":null,"labels":false,"ticks":false,"domain":false,"grid":false}},"y":{"field":"v","type":"quantitative","scale":{"domain":[-60.5,138.9],"nice":false,"zero":false},"axis":{"values":[-50,0,50,100],"title":null,"labels":false,"ticks":false,"domain":false}},"strokeDash":{"field":"s","type":"nominal","scale":{"domain":["solid","dashed"],"range":[[1,0],[16,9]]},"legend":null}}}]},
{"width":292,"height":240,"layer":[{"data":{"values":[{"t":"Costa Rica, 2013"}]},"layer":[{"mark":{"type":"rect","color":"#d9e5eb"},"encoding":{"x":{"datum":-5.3,"type":"quantitative"},"x2":{"datum":105.3},"y":{"datum":112.4,"type":"quantitative"},"y2":{"datum":138.9}}},{"mark":{"type":"text","fontSize":23,"color":"#111111","baseline":"middle"},"encoding":{"x":{"datum":50,"type":"quantitative"},"y":{"datum":125.6,"type":"quantitative"},"text":{"field":"t"}}}]},{"data":{"values":[{}]},"mark":{"type":"rule","color":"black","strokeWidth":2.5},"encoding":{"y":{"datum":0,"type":"quantitative"}}},{"data":{"name":"lines"},"transform":[{"filter":"datum.c === 'Costa Rica'"}],"mark":{"type":"line","color":"red","strokeWidth":2},"encoding":{"x":{"field":"a","type":"quantitative","scale":{"domain":[-5.3,105.3],"nice":false,"zero":false},"axis":{"title":null,"labels":false,"ticks":false,"domain":false,"grid":false}},"y":{"field":"v","type":"quantitative","scale":{"domain":[-60.5,138.9],"nice":false,"zero":false},"axis":{"values":[-50,0,50,100],"title":null,"labels":false,"ticks":false,"domain":false}},"strokeDash":{"field":"s","type":"nominal","scale":{"domain":["solid","dashed"],"range":[[1,0],[16,9]]},"legend":null}}}]},
{"width":292,"height":240,"layer":[{"data":{"values":[{"t":"Germany, 2002"}]},"layer":[{"mark":{"type":"rect","color":"#d9e5eb"},"encoding":{"x":{"datum":-5.3,"type":"quantitative"},"x2":{"datum":105.3},"y":{"datum":112.4,"type":"quantitative"},"y2":{"datum":138.9}}},{"mark":{"type":"text","fontSize":23,"color":"#111111","baseline":"middle"},"encoding":{"x":{"datum":50,"type":"quantitative"},"y":{"datum":125.6,"type":"quantitative"},"text":{"field":"t"}}}]},{"data":{"values":[{}]},"mark":{"type":"rule","color":"black","strokeWidth":2.5},"encoding":{"y":{"datum":0,"type":"quantitative"}}},{"data":{"name":"lines"},"transform":[{"filter":"datum.c === 'Germany'"}],"mark":{"type":"line","color":"red","strokeWidth":2},"encoding":{"x":{"field":"a","type":"quantitative","scale":{"domain":[-5.3,105.3],"nice":false,"zero":false},"axis":{"title":null,"labels":false,"ticks":false,"domain":false,"grid":false}},"y":{"field":"v","type":"quantitative","scale":{"domain":[-60.5,138.9],"nice":false,"zero":false},"axis":{"values":[-50,0,50,100],"title":null,"labels":false,"ticks":false,"domain":false}},"strokeDash":{"field":"s","type":"nominal","scale":{"domain":["solid","dashed"],"range":[[1,0],[16,9]]},"legend":null}}}]},
{"width":292,"height":240,"layer":[{"data":{"values":[{"t":"Ghana, 2009"}]},"layer":[{"mark":{"type":"rect","color":"#d9e5eb"},"encoding":{"x":{"datum":-5.3,"type":"quantitative"},"x2":{"datum":105.3},"y":{"datum":112.4,"type":"quantitative"},"y2":{"datum":138.9}}},{"mark":{"type":"text","fontSize":23,"color":"#111111","baseline":"middle"},"encoding":{"x":{"datum":50,"type":"quantitative"},"y":{"datum":125.6,"type":"quantitative"},"text":{"field":"t"}}}]},{"data":{"values":[{}]},"mark":{"type":"rule","color":"black","strokeWidth":2.5},"encoding":{"y":{"datum":0,"type":"quantitative"}}},{"data":{"name":"lines"},"transform":[{"filter":"datum.c === 'Ghana'"}],"mark":{"type":"line","color":"red","strokeWidth":2},"encoding":{"x":{"field":"a","type":"quantitative","scale":{"domain":[-5.3,105.3],"nice":false,"zero":false},"axis":{"title":null,"labels":false,"ticks":false,"domain":false,"grid":false}},"y":{"field":"v","type":"quantitative","scale":{"domain":[-60.5,138.9],"nice":false,"zero":false},"axis":{"values":[-50,0,50,100],"title":null,"labels":false,"ticks":false,"domain":false}},"strokeDash":{"field":"s","type":"nominal","scale":{"domain":["solid","dashed"],"range":[[1,0],[16,9]]},"legend":null}}}]}
],"spacing":31.4,"bounds":"flush"},
{"hconcat":[
{"width":292,"height":240,"layer":[{"data":{"values":[{"t":"India, 1999"}]},"layer":[{"mark":{"type":"rect","color":"#d9e5eb"},"encoding":{"x":{"datum":-5.3,"type":"quantitative"},"x2":{"datum":105.3},"y":{"datum":112.4,"type":"quantitative"},"y2":{"datum":138.9}}},{"mark":{"type":"text","fontSize":23,"color":"#111111","baseline":"middle"},"encoding":{"x":{"datum":50,"type":"quantitative"},"y":{"datum":125.6,"type":"quantitative"},"text":{"field":"t"}}}]},{"data":{"values":[{}]},"mark":{"type":"rule","color":"black","strokeWidth":2.5},"encoding":{"y":{"datum":0,"type":"quantitative"}}},{"data":{"name":"lines"},"transform":[{"filter":"datum.c === 'India'"}],"mark":{"type":"line","color":"red","strokeWidth":2},"encoding":{"x":{"field":"a","type":"quantitative","scale":{"domain":[-5.3,105.3],"nice":false,"zero":false},"axis":{"title":null,"labels":false,"ticks":false,"domain":false,"grid":false}},"y":{"field":"v","type":"quantitative","scale":{"domain":[-60.5,138.9],"nice":false,"zero":false},"axis":{"values":[-50,0,50,100],"title":null,"labelExpr":"'' + datum.value"}},"strokeDash":{"field":"s","type":"nominal","scale":{"domain":["solid","dashed"],"range":[[1,0],[16,9]]},"legend":null}}}]},
{"width":292,"height":240,"layer":[{"data":{"values":[{"t":"Italy, 2002"}]},"layer":[{"mark":{"type":"rect","color":"#d9e5eb"},"encoding":{"x":{"datum":-5.3,"type":"quantitative"},"x2":{"datum":105.3},"y":{"datum":112.4,"type":"quantitative"},"y2":{"datum":138.9}}},{"mark":{"type":"text","fontSize":23,"color":"#111111","baseline":"middle"},"encoding":{"x":{"datum":50,"type":"quantitative"},"y":{"datum":125.6,"type":"quantitative"},"text":{"field":"t"}}}]},{"data":{"values":[{}]},"mark":{"type":"rule","color":"black","strokeWidth":2.5},"encoding":{"y":{"datum":0,"type":"quantitative"}}},{"data":{"name":"lines"},"transform":[{"filter":"datum.c === 'Italy'"}],"mark":{"type":"line","color":"red","strokeWidth":2},"encoding":{"x":{"field":"a","type":"quantitative","scale":{"domain":[-5.3,105.3],"nice":false,"zero":false},"axis":{"title":null,"labels":false,"ticks":false,"domain":false,"grid":false}},"y":{"field":"v","type":"quantitative","scale":{"domain":[-60.5,138.9],"nice":false,"zero":false},"axis":{"values":[-50,0,50,100],"title":null,"labels":false,"ticks":false,"domain":false}},"strokeDash":{"field":"s","type":"nominal","scale":{"domain":["solid","dashed"],"range":[[1,0],[16,9]]},"legend":null}}}]},
{"width":292,"height":240,"layer":[{"data":{"values":[{"t":"Mauritius, 2003"}]},"layer":[{"mark":{"type":"rect","color":"#d9e5eb"},"encoding":{"x":{"datum":-5.3,"type":"quantitative"},"x2":{"datum":105.3},"y":{"datum":112.4,"type":"quantitative"},"y2":{"datum":138.9}}},{"mark":{"type":"text","fontSize":23,"color":"#111111","baseline":"middle"},"encoding":{"x":{"datum":50,"type":"quantitative"},"y":{"datum":125.6,"type":"quantitative"},"text":{"field":"t"}}}]},{"data":{"values":[{}]},"mark":{"type":"rule","color":"black","strokeWidth":2.5},"encoding":{"y":{"datum":0,"type":"quantitative"}}},{"data":{"name":"lines"},"transform":[{"filter":"datum.c === 'Mauritius'"}],"mark":{"type":"line","color":"red","strokeWidth":2},"encoding":{"x":{"field":"a","type":"quantitative","scale":{"domain":[-5.3,105.3],"nice":false,"zero":false},"axis":{"title":null,"labels":false,"ticks":false,"domain":false,"grid":false}},"y":{"field":"v","type":"quantitative","scale":{"domain":[-60.5,138.9],"nice":false,"zero":false},"axis":{"values":[-50,0,50,100],"title":null,"labels":false,"ticks":false,"domain":false}},"strokeDash":{"field":"s","type":"nominal","scale":{"domain":["solid","dashed"],"range":[[1,0],[16,9]]},"legend":null}}}]},
{"width":292,"height":240,"layer":[{"data":{"values":[{"t":"Mexico, 2014"}]},"layer":[{"mark":{"type":"rect","color":"#d9e5eb"},"encoding":{"x":{"datum":-5.3,"type":"quantitative"},"x2":{"datum":105.3},"y":{"datum":112.4,"type":"quantitative"},"y2":{"datum":138.9}}},{"mark":{"type":"text","fontSize":23,"color":"#111111","baseline":"middle"},"encoding":{"x":{"datum":50,"type":"quantitative"},"y":{"datum":125.6,"type":"quantitative"},"text":{"field":"t"}}}]},{"data":{"values":[{}]},"mark":{"type":"rule","color":"black","strokeWidth":2.5},"encoding":{"y":{"datum":0,"type":"quantitative"}}},{"data":{"name":"lines"},"transform":[{"filter":"datum.c === 'Mexico'"}],"mark":{"type":"line","color":"red","strokeWidth":2},"encoding":{"x":{"field":"a","type":"quantitative","scale":{"domain":[-5.3,105.3],"nice":false,"zero":false},"axis":{"title":null,"labels":false,"ticks":false,"domain":false,"grid":false}},"y":{"field":"v","type":"quantitative","scale":{"domain":[-60.5,138.9],"nice":false,"zero":false},"axis":{"values":[-50,0,50,100],"title":null,"labels":false,"ticks":false,"domain":false}},"strokeDash":{"field":"s","type":"nominal","scale":{"domain":["solid","dashed"],"range":[[1,0],[16,9]]},"legend":null}}}]},
{"width":292,"height":240,"layer":[{"data":{"values":[{"t":"Mongolia, 2015"}]},"layer":[{"mark":{"type":"rect","color":"#d9e5eb"},"encoding":{"x":{"datum":-5.3,"type":"quantitative"},"x2":{"datum":105.3},"y":{"datum":112.4,"type":"quantitative"},"y2":{"datum":138.9}}},{"mark":{"type":"text","fontSize":23,"color":"#111111","baseline":"middle"},"encoding":{"x":{"datum":50,"type":"quantitative"},"y":{"datum":125.6,"type":"quantitative"},"text":{"field":"t"}}}]},{"data":{"values":[{}]},"mark":{"type":"rule","color":"black","strokeWidth":2.5},"encoding":{"y":{"datum":0,"type":"quantitative"}}},{"data":{"name":"lines"},"transform":[{"filter":"datum.c === 'Mongolia'"}],"mark":{"type":"line","color":"red","strokeWidth":2},"encoding":{"x":{"field":"a","type":"quantitative","scale":{"domain":[-5.3,105.3],"nice":false,"zero":false},"axis":{"title":null,"labels":false,"ticks":false,"domain":false,"grid":false}},"y":{"field":"v","type":"quantitative","scale":{"domain":[-60.5,138.9],"nice":false,"zero":false},"axis":{"values":[-50,0,50,100],"title":null,"labels":false,"ticks":false,"domain":false}},"strokeDash":{"field":"s","type":"nominal","scale":{"domain":["solid","dashed"],"range":[[1,0],[16,9]]},"legend":null}}}]}
],"spacing":31.4,"bounds":"flush"},
{"hconcat":[
{"width":292,"height":240,"layer":[{"data":{"values":[{"t":"Senegal, 2011"}]},"layer":[{"mark":{"type":"rect","color":"#d9e5eb"},"encoding":{"x":{"datum":-5.3,"type":"quantitative"},"x2":{"datum":105.3},"y":{"datum":112.4,"type":"quantitative"},"y2":{"datum":138.9}}},{"mark":{"type":"text","fontSize":23,"color":"#111111","baseline":"middle"},"encoding":{"x":{"datum":50,"type":"quantitative"},"y":{"datum":125.6,"type":"quantitative"},"text":{"field":"t"}}}]},{"data":{"values":[{}]},"mark":{"type":"rule","color":"black","strokeWidth":2.5},"encoding":{"y":{"datum":0,"type":"quantitative"}}},{"data":{"name":"lines"},"transform":[{"filter":"datum.c === 'Senegal'"}],"mark":{"type":"line","color":"red","strokeWidth":2},"encoding":{"x":{"field":"a","type":"quantitative","scale":{"domain":[-5.3,105.3],"nice":false,"zero":false},"axis":{"title":null,"labels":false,"ticks":false,"domain":false,"grid":false}},"y":{"field":"v","type":"quantitative","scale":{"domain":[-60.5,138.9],"nice":false,"zero":false},"axis":{"values":[-50,0,50,100],"title":null,"labelExpr":"'' + datum.value"}},"strokeDash":{"field":"s","type":"nominal","scale":{"domain":["solid","dashed"],"range":[[1,0],[16,9]]},"legend":null}}}]},
{"width":292,"height":240,"layer":[{"data":{"values":[{"t":"South Africa, 2010"}]},"layer":[{"mark":{"type":"rect","color":"#d9e5eb"},"encoding":{"x":{"datum":-5.3,"type":"quantitative"},"x2":{"datum":105.3},"y":{"datum":112.4,"type":"quantitative"},"y2":{"datum":138.9}}},{"mark":{"type":"text","fontSize":23,"color":"#111111","baseline":"middle"},"encoding":{"x":{"datum":50,"type":"quantitative"},"y":{"datum":125.6,"type":"quantitative"},"text":{"field":"t"}}}]},{"data":{"values":[{}]},"mark":{"type":"rule","color":"black","strokeWidth":2.5},"encoding":{"y":{"datum":0,"type":"quantitative"}}},{"data":{"name":"lines"},"transform":[{"filter":"datum.c === 'South Africa'"}],"mark":{"type":"line","color":"red","strokeWidth":2},"encoding":{"x":{"field":"a","type":"quantitative","scale":{"domain":[-5.3,105.3],"nice":false,"zero":false},"axis":{"title":null,"labels":false,"ticks":false,"domain":false,"grid":false}},"y":{"field":"v","type":"quantitative","scale":{"domain":[-60.5,138.9],"nice":false,"zero":false},"axis":{"values":[-50,0,50,100],"title":null,"labels":false,"ticks":false,"domain":false}},"strokeDash":{"field":"s","type":"nominal","scale":{"domain":["solid","dashed"],"range":[[1,0],[16,9]]},"legend":null}}}]},
{"width":292,"height":240,"layer":[{"data":{"values":[{"t":"Spain, 2009"}]},"layer":[{"mark":{"type":"rect","color":"#d9e5eb"},"encoding":{"x":{"datum":-5.3,"type":"quantitative"},"x2":{"datum":105.3},"y":{"datum":112.4,"type":"quantitative"},"y2":{"datum":138.9}}},{"mark":{"type":"text","fontSize":23,"color":"#111111","baseline":"middle"},"encoding":{"x":{"datum":50,"type":"quantitative"},"y":{"datum":125.6,"type":"quantitative"},"text":{"field":"t"}}}]},{"data":{"values":[{}]},"mark":{"type":"rule","color":"black","strokeWidth":2.5},"encoding":{"y":{"datum":0,"type":"quantitative"}}},{"data":{"name":"lines"},"transform":[{"filter":"datum.c === 'Spain'"}],"mark":{"type":"line","color":"red","strokeWidth":2},"encoding":{"x":{"field":"a","type":"quantitative","scale":{"domain":[-5.3,105.3],"nice":false,"zero":false},"axis":{"title":null,"labels":false,"ticks":false,"domain":false,"grid":false}},"y":{"field":"v","type":"quantitative","scale":{"domain":[-60.5,138.9],"nice":false,"zero":false},"axis":{"values":[-50,0,50,100],"title":null,"labels":false,"ticks":false,"domain":false}},"strokeDash":{"field":"s","type":"nominal","scale":{"domain":["solid","dashed"],"range":[[1,0],[16,9]]},"legend":null}}}]},
{"width":292,"height":240,"layer":[{"data":{"values":[{"t":"Thailand, 2014"}]},"layer":[{"mark":{"type":"rect","color":"#d9e5eb"},"encoding":{"x":{"datum":-5.3,"type":"quantitative"},"x2":{"datum":105.3},"y":{"datum":112.4,"type":"quantitative"},"y2":{"datum":138.9}}},{"mark":{"type":"text","fontSize":23,"color":"#111111","baseline":"middle"},"encoding":{"x":{"datum":50,"type":"quantitative"},"y":{"datum":125.6,"type":"quantitative"},"text":{"field":"t"}}}]},{"data":{"values":[{}]},"mark":{"type":"rule","color":"black","strokeWidth":2.5},"encoding":{"y":{"datum":0,"type":"quantitative"}}},{"data":{"name":"lines"},"transform":[{"filter":"datum.c === 'Thailand'"}],"mark":{"type":"line","color":"red","strokeWidth":2},"encoding":{"x":{"field":"a","type":"quantitative","scale":{"domain":[-5.3,105.3],"nice":false,"zero":false},"axis":{"values":[0,50,100],"title":null}},"y":{"field":"v","type":"quantitative","scale":{"domain":[-60.5,138.9],"nice":false,"zero":false},"axis":{"values":[-50,0,50,100],"title":null,"labels":false,"ticks":false,"domain":false}},"strokeDash":{"field":"s","type":"nominal","scale":{"domain":["solid","dashed"],"range":[[1,0],[16,9]]},"legend":null}}}]},
{"width":292,"height":240,"layer":[{"data":{"values":[{"t":"Turkey, 2014"}]},"layer":[{"mark":{"type":"rect","color":"#d9e5eb"},"encoding":{"x":{"datum":-5.3,"type":"quantitative"},"x2":{"datum":105.3},"y":{"datum":112.4,"type":"quantitative"},"y2":{"datum":138.9}}},{"mark":{"type":"text","fontSize":23,"color":"#111111","baseline":"middle"},"encoding":{"x":{"datum":50,"type":"quantitative"},"y":{"datum":125.6,"type":"quantitative"},"text":{"field":"t"}}}]},{"data":{"values":[{}]},"mark":{"type":"rule","color":"black","strokeWidth":2.5},"encoding":{"y":{"datum":0,"type":"quantitative"}}},{"data":{"name":"lines"},"transform":[{"filter":"datum.c === 'Turkey'"}],"mark":{"type":"line","color":"red","strokeWidth":2},"encoding":{"x":{"field":"a","type":"quantitative","scale":{"domain":[-5.3,105.3],"nice":false,"zero":false},"axis":{"values":[0,50,100],"title":null}},"y":{"field":"v","type":"quantitative","scale":{"domain":[-60.5,138.9],"nice":false,"zero":false},"axis":{"values":[-50,0,50,100],"title":null,"labels":false,"ticks":false,"domain":false}},"strokeDash":{"field":"s","type":"nominal","scale":{"domain":["solid","dashed"],"range":[[1,0],[16,9]]},"legend":null}}}]}
],"spacing":31.4,"bounds":"flush"},
{"hconcat":[
{"hconcat":[
{"width":292,"height":240,"layer":[{"data":{"values":[{"t":"United States, 2009"}]},"layer":[{"mark":{"type":"rect","color":"#d9e5eb"},"encoding":{"x":{"datum":-5.3,"type":"quantitative"},"x2":{"datum":105.3},"y":{"datum":112.4,"type":"quantitative"},"y2":{"datum":138.9}}},{"mark":{"type":"text","fontSize":23,"color":"#111111","baseline":"middle"},"encoding":{"x":{"datum":50,"type":"quantitative"},"y":{"datum":125.6,"type":"quantitative"},"text":{"field":"t"}}}]},{"data":{"values":[{}]},"mark":{"type":"rule","color":"black","strokeWidth":2.5},"encoding":{"y":{"datum":0,"type":"quantitative"}}},{"data":{"name":"lines"},"transform":[{"filter":"datum.c === 'United States'"}],"mark":{"type":"line","color":"red","strokeWidth":2},"encoding":{"x":{"field":"a","type":"quantitative","scale":{"domain":[-5.3,105.3],"nice":false,"zero":false},"axis":{"values":[0,50,100],"title":null}},"y":{"field":"v","type":"quantitative","scale":{"domain":[-60.5,138.9],"nice":false,"zero":false},"axis":{"values":[-50,0,50,100],"title":null,"labelExpr":"'' + datum.value"}},"strokeDash":{"field":"s","type":"nominal","scale":{"domain":["solid","dashed"],"range":[[1,0],[16,9]]},"legend":null}}}]},
{"width":292,"height":240,"layer":[{"data":{"values":[{"t":"Uruguay, 2013"}]},"layer":[{"mark":{"type":"rect","color":"#d9e5eb"},"encoding":{"x":{"datum":-5.3,"type":"quantitative"},"x2":{"datum":105.3},"y":{"datum":112.4,"type":"quantitative"},"y2":{"datum":138.9}}},{"mark":{"type":"text","fontSize":23,"color":"#111111","baseline":"middle"},"encoding":{"x":{"datum":50,"type":"quantitative"},"y":{"datum":125.6,"type":"quantitative"},"text":{"field":"t"}}}]},{"data":{"values":[{}]},"mark":{"type":"rule","color":"black","strokeWidth":2.5},"encoding":{"y":{"datum":0,"type":"quantitative"}}},{"data":{"name":"lines"},"transform":[{"filter":"datum.c === 'Uruguay'"}],"mark":{"type":"line","color":"red","strokeWidth":2},"encoding":{"x":{"field":"a","type":"quantitative","scale":{"domain":[-5.3,105.3],"nice":false,"zero":false},"axis":{"values":[0,50,100],"title":null}},"y":{"field":"v","type":"quantitative","scale":{"domain":[-60.5,138.9],"nice":false,"zero":false},"axis":{"values":[-50,0,50,100],"title":null,"labels":false,"ticks":false,"domain":false}},"strokeDash":{"field":"s","type":"nominal","scale":{"domain":["solid","dashed"],"range":[[1,0],[16,9]]},"legend":null}}}]},
{"width":292,"height":240,"layer":[{"data":{"values":[{"t":"Vietnam, 2015"}]},"layer":[{"mark":{"type":"rect","color":"#d9e5eb"},"encoding":{"x":{"datum":-5.3,"type":"quantitative"},"x2":{"datum":105.3},"y":{"datum":112.4,"type":"quantitative"},"y2":{"datum":138.9}}},{"mark":{"type":"text","fontSize":23,"color":"#111111","baseline":"middle"},"encoding":{"x":{"datum":50,"type":"quantitative"},"y":{"datum":125.6,"type":"quantitative"},"text":{"field":"t"}}}]},{"data":{"values":[{}]},"mark":{"type":"rule","color":"black","strokeWidth":2.5},"encoding":{"y":{"datum":0,"type":"quantitative"}}},{"data":{"name":"lines"},"transform":[{"filter":"datum.c === 'Vietnam'"}],"mark":{"type":"line","color":"red","strokeWidth":2},"encoding":{"x":{"field":"a","type":"quantitative","scale":{"domain":[-5.3,105.3],"nice":false,"zero":false},"axis":{"values":[0,50,100],"title":"Age","titleFontSize":44,"titleFont":"Liberation Sans","titleFontWeight":"normal","titleColor":"black","titlePadding":17,"titleX":127}},"y":{"field":"v","type":"quantitative","scale":{"domain":[-60.5,138.9],"nice":false,"zero":false},"axis":{"values":[-50,0,50,100],"title":null,"labels":false,"ticks":false,"domain":false}},"strokeDash":{"field":"s","type":"nominal","scale":{"domain":["solid","dashed"],"range":[[1,0],[16,9]]},"legend":null}}}]}
],"spacing":31.4,"bounds":"flush"},
{"width":519,"height":280,
 "data":{"values":[{"t":"Women make net","l":0},{"t":"transfers up to the very","l":1},{"t":"oldest age groups","l":2}]},
 "mark":{"type":"text","align":"left","baseline":"alphabetic","fontSize":52,"fontStyle":"italic","font":"Liberation Sans","color":"black","dx":10,"clip":true},
 "encoding":{"x":{"datum":0,"type":"quantitative","scale":{"domain":[0,1]},"axis":null},"y":{"field":"l","type":"quantitative","scale":{"domain":[-1.813,2.667],"reverse":true,"nice":false,"zero":false},"axis":null},"text":{"field":"t"}}}
],"spacing":134}
],
"spacing":30
}
